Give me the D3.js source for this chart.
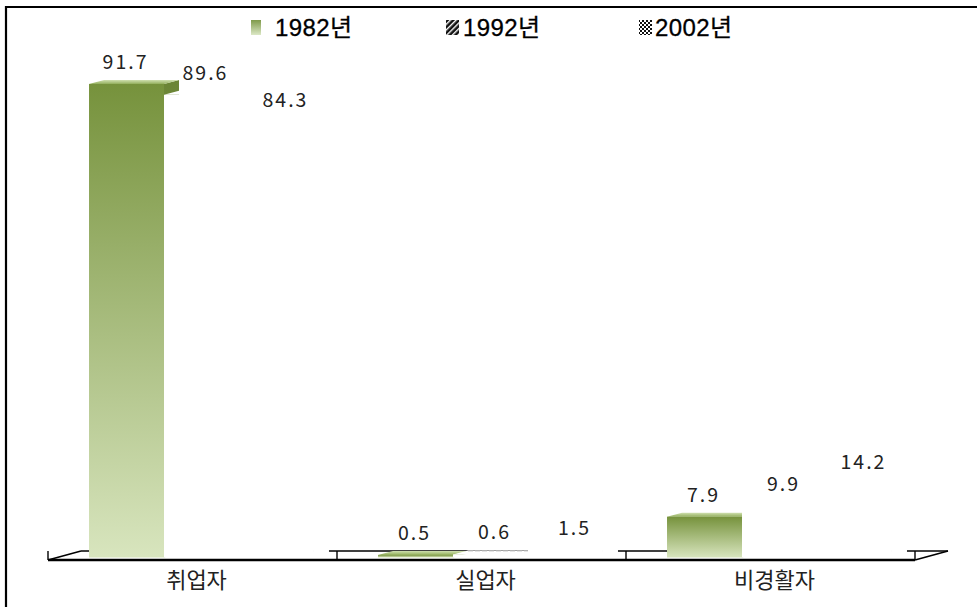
<!DOCTYPE html>
<html><head><meta charset="utf-8">
<script src="https://cdn.jsdelivr.net/npm/d3@7"></script>
<style>
body{margin:0;background:#fff;}
svg{display:block;}
</style></head>
<body>
<svg id="chart" width="977" height="607"></svg>
<script>
const categories = ["취업자", "실업자", "비경활자"];
const years = ["1982년", "1992년", "2002년"];
const v1982 = [91.7, 0.5, 7.9];
const v1992 = [89.6, 0.6, 9.9];
const v2002 = [84.3, 1.5, 14.2];
const seriesValues = [v1982, v1992, v2002];

const svg = d3.select("#chart");
const defs = svg.append("defs");

const gFront = defs.append("linearGradient").attr("id","gFront").attr("x1",0).attr("y1",0).attr("x2",0).attr("y2",1);
gFront.append("stop").attr("offset","0%").attr("stop-color","#76923c");
gFront.append("stop").attr("offset","100%").attr("stop-color","#d8e5be");
const gTop = defs.append("linearGradient").attr("id","gTop").attr("x1",0).attr("y1",0).attr("x2",0).attr("y2",1);
gTop.append("stop").attr("offset","0%").attr("stop-color","#d0e0b0");
gTop.append("stop").attr("offset","100%").attr("stop-color","#94b05e");
const gSide = defs.append("linearGradient").attr("id","gSide").attr("x1",0).attr("y1",0).attr("x2",0).attr("y2",1);
gSide.append("stop").attr("offset","0%").attr("stop-color","#6a8434");
gSide.append("stop").attr("offset","100%").attr("stop-color","#b9ca98");
const gLeg = defs.append("linearGradient").attr("id","gLeg").attr("x1",0).attr("y1",0).attr("x2",0).attr("y2",1);
gLeg.append("stop").attr("offset","0%").attr("stop-color","#7f9a4a");
gLeg.append("stop").attr("offset","100%").attr("stop-color","#dce8c6");

const pStripe = defs.append("pattern").attr("id","pStripe").attr("patternUnits","userSpaceOnUse")
  .attr("width",4).attr("height",4).attr("patternTransform","rotate(45)");
pStripe.append("rect").attr("width",4).attr("height",4).attr("fill","#111");
pStripe.append("rect").attr("width",1.4).attr("height",4).attr("fill","#fff");
const pCheck = defs.append("pattern").attr("id","pCheck").attr("patternUnits","userSpaceOnUse")
  .attr("width",4).attr("height",4);
pCheck.append("rect").attr("width",4).attr("height",4).attr("fill","#111");
pCheck.append("rect").attr("width",2).attr("height",2).attr("fill","#fff");
pCheck.append("rect").attr("x",2).attr("y",2).attr("width",2).attr("height",2).attr("fill","#fff");

// frame (left + top)
svg.append("path").attr("d","M6,607 L6,7 L977,7").attr("fill","none").attr("stroke","#000").attr("stroke-width",2.2);

// scales
const x = d3.scaleBand().domain(categories).range([48, 915]).paddingInner(0).paddingOuter(0);
const xi = d3.scaleBand().domain(years).range([0, x.bandwidth()]).paddingInner(0).paddingOuter(0.427);
const y = d3.scaleLinear().domain([0, 100]).range([560, 43.6]);

const floorD = {dx:33, dy:-9};
const barOff = {dx:9, dy:-2.5};
const barD = {dx:15, dy:-4};

// floor
const [x0, x1] = x.range();
const y0 = y(0);
const floor = svg.append("g").attr("fill","none").attr("stroke","#000");
floor.append("path").attr("d",`M${x0+floorD.dx},${y0+floorD.dy} L${x1+floorD.dx},${y0+floorD.dy}`).attr("stroke-width",1.6);
floor.append("path").attr("d",`M${x0},${y0} L${x0+floorD.dx},${y0+floorD.dy}`).attr("stroke-width",1.6);
floor.append("path").attr("d",`M${x1},${y0} L${x1+floorD.dx},${y0+floorD.dy}`).attr("stroke-width",1.6);
const bounds = categories.map(c => x(c)).concat([x1]);
floor.selectAll("line.tk").data(bounds).join("line").attr("class","tk")
  .attr("x1",d=>d).attr("x2",d=>d).attr("y1",y0+floorD.dy).attr("y2",y0).attr("stroke-width",1.4);

// bars
const barsG = svg.append("g");
categories.forEach((cat, ci) => {
  years.forEach((yr, si) => {
    const v = seriesValues[si][ci];
    const bx = x(cat) + xi(yr) + barOff.dx;
    const bw = xi.bandwidth();
    const by0 = y(0) + barOff.dy;
    const byt = y(v) + barOff.dy;
    const g = barsG.append("g");
    const green = si === 0;
    g.append("path").attr("d",`M${bx+bw},${byt} L${bx+bw+barD.dx},${byt+barD.dy} L${bx+bw+barD.dx},${by0+barD.dy} L${bx+bw},${by0}Z`)
      .attr("fill", green ? "url(#gSide)" : "#fff");
    g.append("path").attr("d",`M${bx},${byt} L${bx+barD.dx},${byt+barD.dy} L${bx+bw+barD.dx},${byt+barD.dy} L${bx+bw},${byt}Z`)
      .attr("fill", green ? "url(#gTop)" : "#fff");
    g.append("rect").attr("x",bx).attr("y",byt).attr("width",bw).attr("height",Math.max(0.5, by0-byt))
      .attr("fill", green ? "url(#gFront)" : "#fff");
    if (!green && v < 1) {
      g.append("line").attr("x1",bx+barD.dx).attr("x2",bx+bw+barD.dx).attr("y1",byt+barD.dy+0.5).attr("y2",byt+barD.dy+0.5)
        .attr("stroke","#bbb").attr("stroke-width",1).attr("stroke-dasharray","5,2");
    }
  });
});

// front floor edge
svg.append("path").attr("d",`M${x0},${y0} L${x1},${y0}`).attr("stroke","#000").attr("stroke-width",2.4).attr("fill","none");

// value labels
const lbl = svg.append("g").attr("font-family","'Noto Sans CJK KR', 'DejaVu Sans', sans-serif")
  .attr("font-size",19.5).attr("letter-spacing","2px").attr("fill","#222").attr("text-anchor","middle");
categories.forEach((cat, ci) => {
  years.forEach((yr, si) => {
    const v = seriesValues[si][ci];
    const cx = x(cat) + xi(yr) + xi.bandwidth()/2 + barOff.dx + si*5 - 1;
    lbl.append("text").attr("x",cx).attr("y", y(v) + barOff.dy - 15).text(v.toFixed(1));
  });
});

// category axis
const axis = d3.axisBottom(x).tickSize(0).tickPadding(0);
const ax = svg.append("g").attr("transform",`translate(4,${y0+28})`).call(axis);
ax.select(".domain").remove();
ax.selectAll("text").attr("font-family","'Noto Sans CJK KR', sans-serif").attr("font-size",22).attr("fill","#222").attr("dy","0");

// legend
const legIcon = [[251, 10], [446, 13], [639, 13]];
const legText = [275, 463, 655];
const legFill = ["url(#gLeg)", "url(#pStripe)", "url(#pCheck)"];
const leg = svg.append("g");
years.forEach((yr, i) => {
  leg.append("rect").attr("x",legIcon[i][0]).attr("y",20).attr("width",legIcon[i][1]).attr("height",15).attr("fill",legFill[i]);
  leg.append("text").attr("x",legText[i]).attr("y",36)
    .attr("font-family","'Liberation Sans', 'Noto Sans CJK KR', sans-serif").attr("font-size",24)
    .attr("letter-spacing","0.4px")
    .attr("stroke","#000").attr("stroke-width",0.3)
    .attr("fill","#000").text(yr);
});
</script>
</body></html>
